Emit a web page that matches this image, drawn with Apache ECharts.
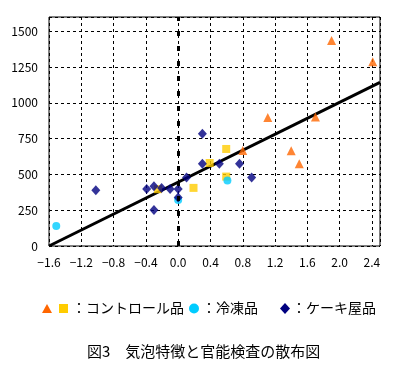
<!DOCTYPE html>
<html><head><meta charset="utf-8">
<script src="https://cdn.jsdelivr.net/npm/echarts@6/dist/echarts.min.js"></script>
<style>html,body{margin:0;padding:0;background:#fff}#c{width:405px;height:368px}</style>
</head><body><div id="c"></div>
<script>
// Data
const controlTriangles = [[0.80,667],[1.11,898],[1.40,665],[1.50,574],[1.70,901],[1.90,1435],[2.41,1288]];
const controlSquares = [[-0.25,397],[0.19,406],[0.39,580],[0.595,485],[0.595,678]];
const frozen = [[-1.51,140],[0.0,321],[0.61,458]];
const cakeShop = [[-1.02,390],[-0.39,399],[-0.30,418],[-0.30,252],[-0.205,406],[-0.10,399],[0.0,399],[0.0,338],[0.104,478],[0.30,784],[0.30,575],[0.51,575],[0.76,575],[0.91,478]];
const regression = [[-1.6,0],[2.5,1143]];
const xTicks = {min:-1.6, max:2.5, step:0.4};
const yTicks = {min:0, max:1600, step:250};
const legendLabels = ['：コントロール品','：冷凍品','：ケーキ屋品'];
const caption = '図3　気泡特徴と官能検査の散布図';

const FONT = '"Noto Sans CJK JP", "Noto Sans", sans-serif';
const chart = echarts.init(document.getElementById('c'));
const dash = {color:'#000', width:1, type:[3,3]};
chart.setOption({
  animation:false,
  grid:{left:49, top:17, right:25, bottom:122, show:true, borderColor:'#000', borderWidth:1},
  xAxis:{type:'value', min:xTicks.min, max:xTicks.max, interval:xTicks.step,
    axisLine:{show:false}, axisTick:{show:false},
    splitLine:{show:true, lineStyle:dash},
    axisLabel:{showMaxLabel:false, color:'#000', fontSize:12, fontFamily:FONT, margin:10,
      formatter:v=>v.toFixed(1).replace('-','\u2212')}},
  yAxis:{type:'value', min:yTicks.min, max:yTicks.max, interval:yTicks.step,
    axisLine:{show:false}, axisTick:{show:false},
    splitLine:{show:true, lineStyle:dash},
    axisLabel:{showMaxLabel:false, color:'#000', fontSize:12, fontFamily:FONT, margin:11,
      formatter:v=>String(v)}},
  series:[
    {type:'line', data:regression, symbol:'none', z:1, lineStyle:{color:'#000', width:3},
     markLine:{silent:true, symbol:'none', label:{show:false}, lineStyle:{color:'#000', width:3, type:[5,10]}, data:[{xAxis:0}]}},
    {type:'scatter', data:controlSquares, symbol:'rect', symbolSize:8, z:2, itemStyle:{color:'#FFCC00'}},
    {type:'scatter', data:frozen, symbol:'circle', symbolSize:8, z:3, itemStyle:{color:'#00CCFF'}},
    {type:'scatter', data:cakeShop, symbol:'diamond', symbolSize:[9,10], z:4, itemStyle:{color:'#000080'}},
    {type:'scatter', data:controlTriangles, symbol:'triangle', symbolSize:[9,9], z:5, itemStyle:{color:'#FF6600'}}
  ],
  graphic:[
    {type:'polygon', shape:{points:[[42,313],[52,313],[47,304]]}, style:{fill:'#FF6600'}},
    {type:'rect', shape:{x:59,y:304,width:9,height:9}, style:{fill:'#FFCC00'}},
    {type:'text', x:72, y:308, style:{text:legendLabels[0], font:'14px '+FONT, fill:'#000', verticalAlign:'middle', align:'left'}},
    {type:'circle', shape:{cx:194,cy:308.5,r:5}, style:{fill:'#00CCFF'}},
    {type:'text', x:202, y:308, style:{text:legendLabels[1], font:'14px '+FONT, fill:'#000', verticalAlign:'middle', align:'left'}},
    {type:'polygon', shape:{points:[[285,303],[290,308.5],[285,314],[280,308.5]]}, style:{fill:'#000080'}},
    {type:'text', x:292, y:308, style:{text:legendLabels[2], font:'14px '+FONT, fill:'#000', verticalAlign:'middle', align:'left'}},
    {type:'text', x:87, y:351, style:{text:caption, font:'15px '+FONT, fill:'#000', verticalAlign:'middle', align:'left'}}
  ]
});
</script></body></html>
